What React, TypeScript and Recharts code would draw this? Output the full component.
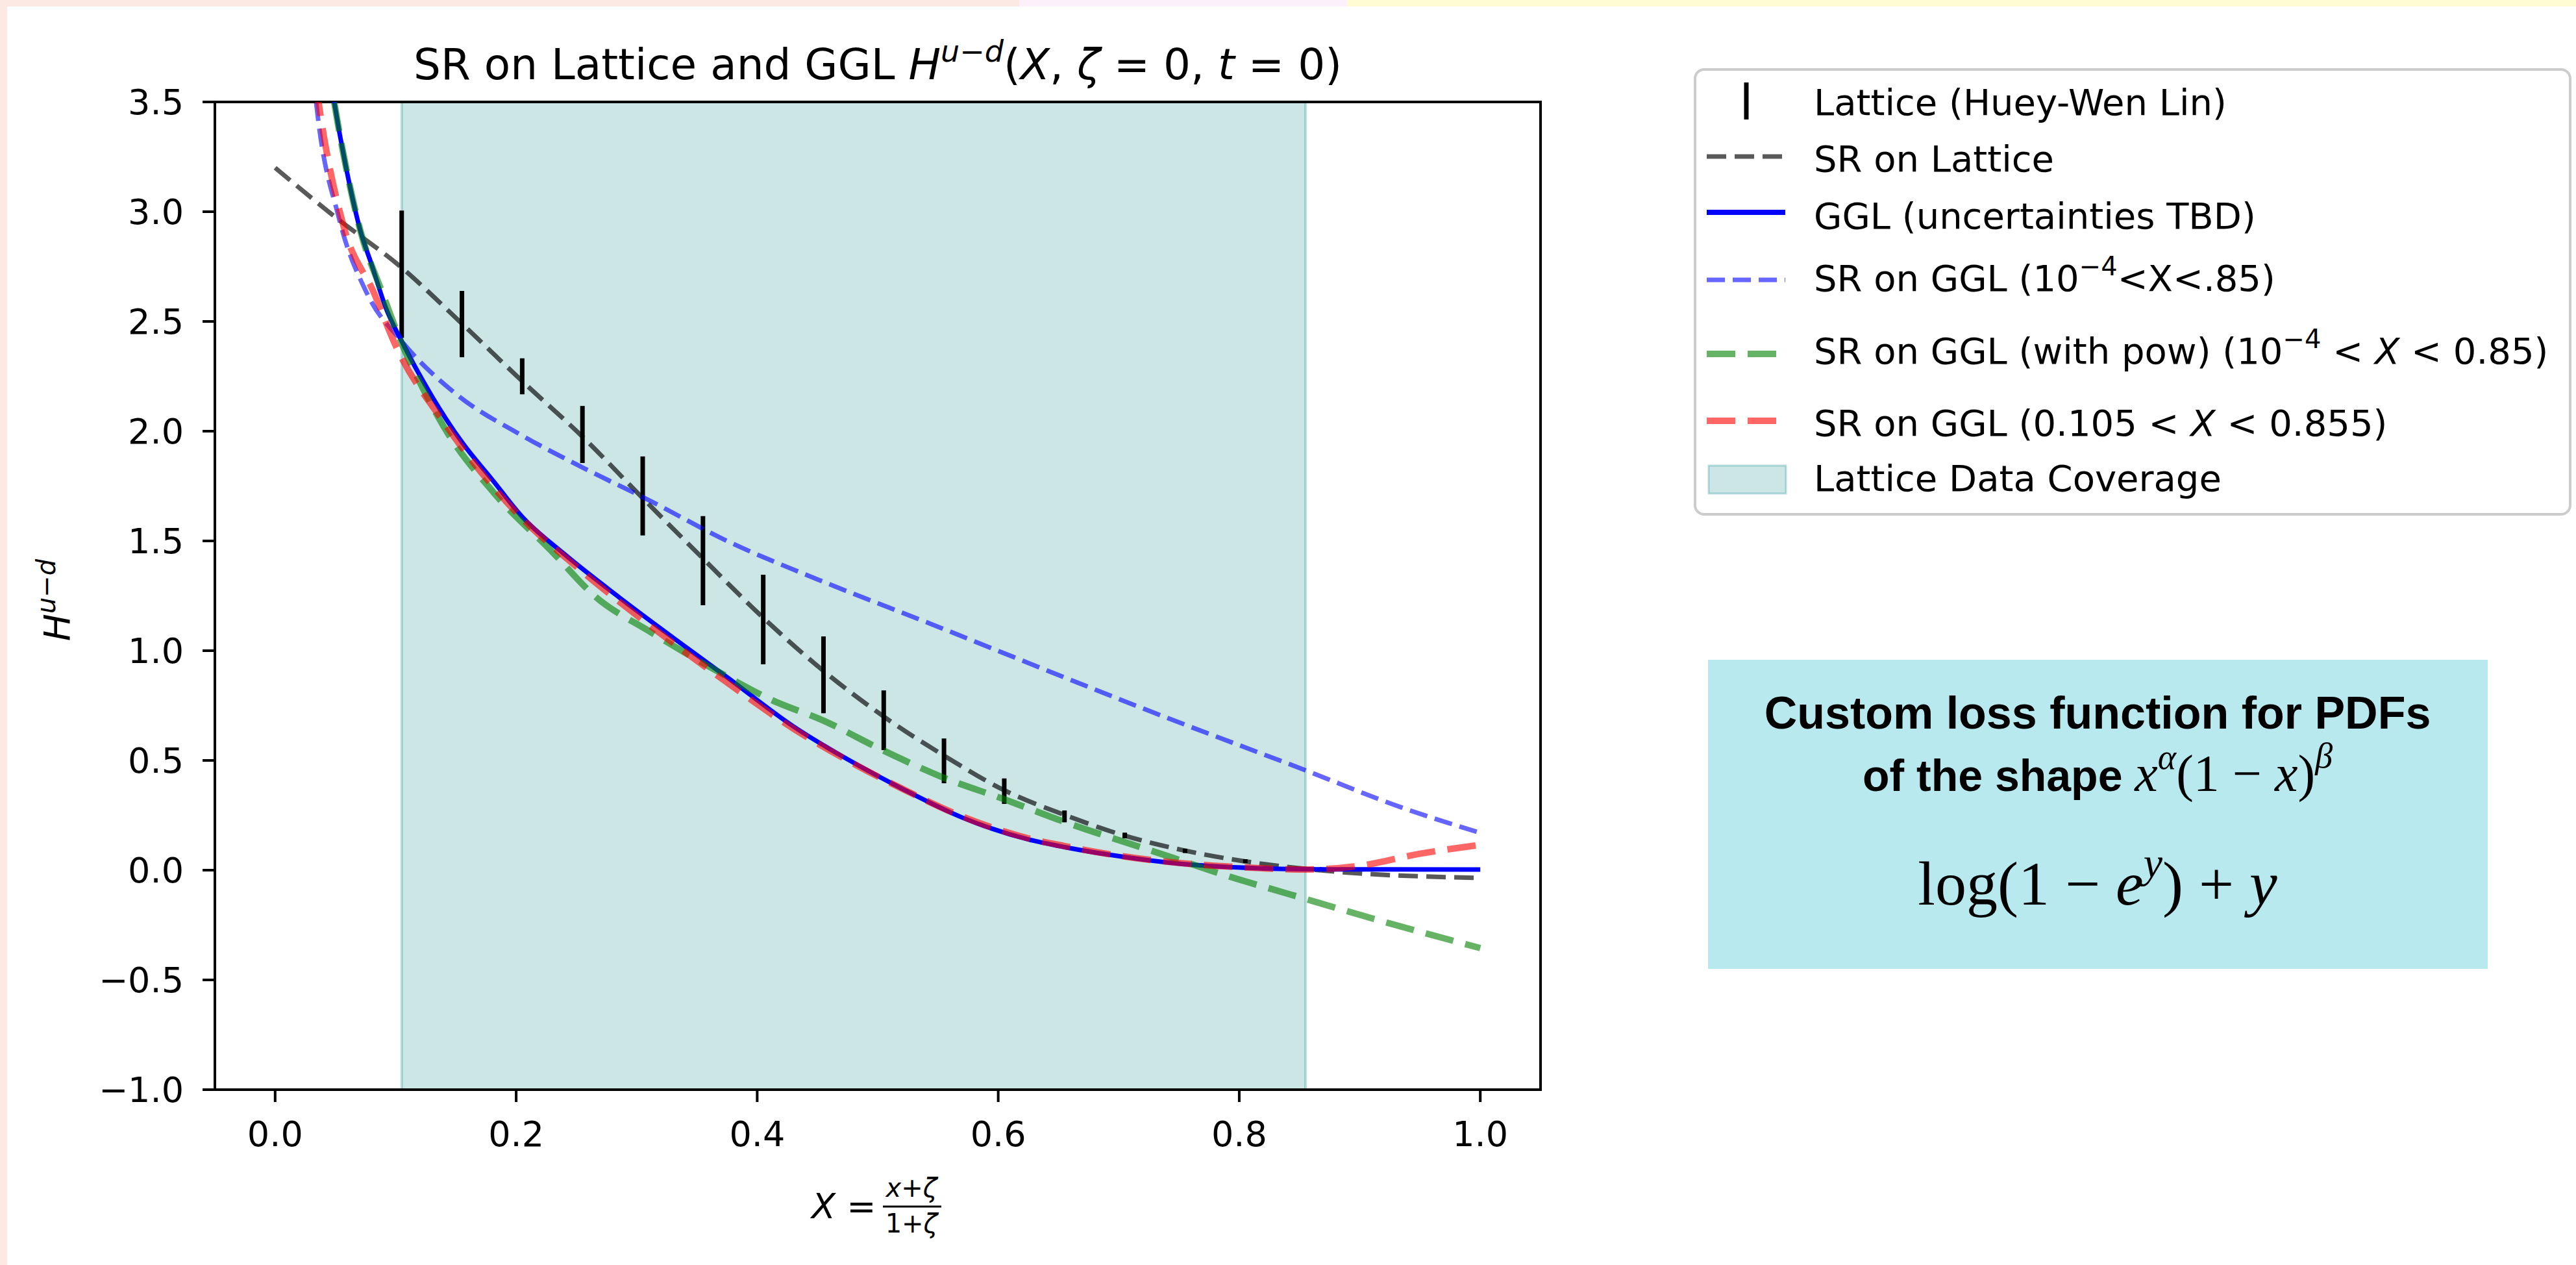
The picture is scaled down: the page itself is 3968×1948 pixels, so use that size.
import React from "react";
import {
  ComposedChart,
  Line,
  Scatter,
  ErrorBar,
  XAxis,
  YAxis,
  ReferenceArea,
} from "recharts";

const W = 3968;
const H = 1948;

// Lattice (Huey-Wen Lin) points with symmetric errors
const latticeX = [0.105, 0.155, 0.205, 0.255, 0.305, 0.355, 0.405, 0.455, 0.505, 0.555, 0.605, 0.655, 0.705, 0.755, 0.805];
const latticeY = [2.715, 2.488, 2.25, 1.985, 1.705, 1.41, 1.142, 0.89, 0.683, 0.498, 0.36, 0.245, 0.158, 0.088, 0.041];
const latticeErr = [0.29, 0.151, 0.082, 0.13, 0.18, 0.203, 0.204, 0.175, 0.136, 0.102, 0.058, 0.027, 0.013, 0.01, 0.009];

// SR on Lattice
const srLatX = [0, 0.05, 0.105, 0.155, 0.205, 0.255, 0.305, 0.355, 0.405, 0.455, 0.505, 0.555, 0.605, 0.655, 0.705, 0.755, 0.805, 0.855, 0.9, 0.95, 1.0];
const srLatY = [3.2, 2.975, 2.745, 2.49, 2.228, 1.975, 1.695, 1.42, 1.15, 0.908, 0.7, 0.522, 0.364, 0.252, 0.157, 0.089, 0.04, 0.006, -0.015, -0.028, -0.035];

// GGL (uncertainties TBD)
const gglX = [0.035, 0.049, 0.06, 0.071, 0.08, 0.092, 0.105, 0.13, 0.155, 0.18, 0.205, 0.24, 0.285, 0.33, 0.375, 0.43, 0.475, 0.52, 0.57, 0.625, 0.655, 0.705, 0.76, 0.815, 0.87, 1.0];
const gglY = [4.05, 3.5, 3.17, 2.908, 2.76, 2.56, 2.41, 2.16, 1.95, 1.78, 1.61, 1.44, 1.245, 1.06, 0.879, 0.655, 0.505, 0.372, 0.24, 0.14, 0.105, 0.06, 0.025, 0.009, 0.004, 0.003];

// SR on GGL (1e-4 < X < .85)
const srGglX = [0.028, 0.034, 0.053, 0.076, 0.105, 0.15, 0.205, 0.255, 0.31, 0.375, 0.45, 0.545, 0.655, 0.735, 0.855, 0.935, 1.0];
const srGglY = [3.85, 3.5, 2.97, 2.63, 2.41, 2.17, 1.98, 1.835, 1.686, 1.5, 1.325, 1.12, 0.878, 0.705, 0.455, 0.285, 0.17];

// SR on GGL (with pow)
const srPowX = [0.035, 0.049, 0.06, 0.071, 0.089, 0.105, 0.115, 0.14, 0.182, 0.23, 0.266, 0.31, 0.375, 0.411, 0.4555, 0.504, 0.554, 0.604, 0.654, 0.7435, 0.7865, 0.842, 0.92, 1.0];
const srPowY = [4.05, 3.5, 3.17, 2.908, 2.63, 2.4, 2.28, 2.02, 1.716, 1.45, 1.245, 1.09, 0.882, 0.778, 0.68, 0.547, 0.423, 0.325, 0.222, 0.059, -0.02, -0.11, -0.235, -0.355];

// SR on GGL (0.105 < X < 0.855)
const srCutX = [0.03, 0.036, 0.057, 0.082, 0.1, 0.14, 0.2, 0.255, 0.305, 0.375, 0.43, 0.475, 0.52, 0.57, 0.625, 0.655, 0.705, 0.76, 0.815, 0.855, 0.9, 0.95, 1.0];
const srCutY = [3.75, 3.5, 2.93, 2.63, 2.39, 2.04, 1.63, 1.36, 1.14, 0.855, 0.645, 0.5, 0.372, 0.245, 0.145, 0.11, 0.062, 0.028, 0.01, 0.003, 0.02, 0.075, 0.115];

const coverage = [0.105, 0.855];
const xDomain = [-0.05, 1.05];
const yDomain = [-1, 3.5];
const xTicks = [0, 0.2, 0.4, 0.6, 0.8, 1.0];
const yTicks = [-1, -0.5, 0, 0.5, 1, 1.5, 2, 2.5, 3, 3.5];

const zip = (xs: number[], ys: number[]) => xs.map((x, i) => ({ x, y: ys[i] }));
const lattice = latticeX.map((x, i) => ({ x, y: latticeY[i], err: latticeErr[i] }));

const fmt = (v: number) => (v < 0 ? "\u2212" + (-v).toFixed(1) : v.toFixed(1));

const DV = "DejaVu Sans";
const SERIF = "Liberation Serif";
const SANS = "Liberation Sans";
const tickStyle = { fontSize: 54, fill: "#000", fontFamily: DV };

// plot box in page pixels
const PL = 331;
const PT = 157;
const PR = 2373;
const PB = 1678;

function Overlay() {
  const lx = 2629;
  const tx = 2794;
  return (
    <svg
      width={W}
      height={H}
      style={{ position: "absolute", left: 0, top: 0, pointerEvents: "none" }}
    >
      {/* title */}
      <text x={(PL + PR) / 2} y={122} textAnchor="middle" fontFamily={DV} fontSize={66} fill="#000">
        SR on Lattice and GGL{" "}
        <tspan fontStyle="italic">H</tspan>
        <tspan fontSize={46} dy={-27} fontStyle="italic">u</tspan>
        <tspan fontSize={46}>{"\u2212"}</tspan>
        <tspan fontSize={46} fontStyle="italic">d</tspan>
        <tspan dy={27}>(</tspan>
        <tspan fontStyle="italic">X</tspan>
        <tspan>{", "}</tspan>
        <tspan fontStyle="italic">ζ</tspan>
        <tspan>{" = 0, "}</tspan>
        <tspan fontStyle="italic">t</tspan>
        <tspan>{" = 0)"}</tspan>
      </text>

      {/* y label */}
      <text transform="translate(107,924) rotate(-90)" textAnchor="middle" fontFamily={DV} fontSize={56} fill="#000">
        <tspan fontStyle="italic">H</tspan>
        <tspan fontSize={40} dy={-22} fontStyle="italic">u</tspan>
        <tspan fontSize={40}>{"\u2212"}</tspan>
        <tspan fontSize={40} fontStyle="italic">d</tspan>
      </text>

      {/* x label */}
      <text x={1250} y={1876} fontFamily={DV} fontSize={54} fill="#000">
        <tspan fontStyle="italic">X</tspan>
        <tspan>{" ="}</tspan>
      </text>
      <text x={1404} y={1843} textAnchor="middle" fontFamily={DV} fontSize={40} fill="#000">
        <tspan fontStyle="italic">x</tspan>+<tspan fontStyle="italic">ζ</tspan>
      </text>
      <line x1={1360} x2={1450} y1={1858} y2={1858} stroke="#000" strokeWidth={3} />
      <text x={1404} y={1898} textAnchor="middle" fontFamily={DV} fontSize={40} fill="#000">
        1+<tspan fontStyle="italic">ζ</tspan>
      </text>

      {/* legend */}
      <rect x={2611} y={107} width={1348} height={685} rx={14} fill="#fff" fillOpacity={0.8} stroke="#cccccc" strokeWidth={4} />
      <line x1={2690} x2={2690} y1={127} y2={184} stroke="#000" strokeWidth={7} />
      <line x1={lx} x2={2750} y1={241} y2={241} stroke="#000" strokeOpacity={0.65} strokeWidth={7} strokeDasharray="30 13" />
      <line x1={lx} x2={2750} y1={327} y2={327} stroke="#0000ff" strokeWidth={8} />
      <line x1={lx} x2={2750} y1={431} y2={431} stroke="#0000ff" strokeOpacity={0.6} strokeWidth={7} strokeDasharray="28 12" />
      <line x1={lx} x2={2739} y1={545} y2={545} stroke="#008000" strokeOpacity={0.6} strokeWidth={10} strokeDasharray="44 19" />
      <line x1={lx} x2={2739} y1={648} y2={648} stroke="#ff0000" strokeOpacity={0.6} strokeWidth={10} strokeDasharray="44 19" />
      <rect x={2632} y={717} width={119} height={43} fill="#008080" fillOpacity={0.2} stroke="#008080" strokeOpacity={0.25} strokeWidth={3} />
      <g fontFamily={DV} fontSize={56} fill="#000">
        <text x={tx} y={177}>Lattice (Huey-Wen Lin)</text>
        <text x={tx} y={264}>SR on Lattice</text>
        <text x={tx} y={352}>GGL (uncertainties TBD)</text>
        <text x={tx} y={448}>
          SR on GGL (10
          <tspan fontSize={40} dy={-24}>{"\u22124"}</tspan>
          <tspan dy={24}>{"<X<.85)"}</tspan>
        </text>
        <text x={tx} y={560}>
          SR on GGL (with pow) (10
          <tspan fontSize={40} dy={-24}>{"\u22124"}</tspan>
          <tspan dy={24}>{" < "}</tspan>
          <tspan fontStyle="italic">X</tspan>
          <tspan>{" < 0.85)"}</tspan>
        </text>
        <text x={tx} y={671}>
          {"SR on GGL (0.105 < "}
          <tspan fontStyle="italic">X</tspan>
          <tspan>{" < 0.855)"}</tspan>
        </text>
        <text x={tx} y={756}>Lattice Data Coverage</text>
      </g>

      {/* annotation box */}
      <rect x={2631} y={1016} width={1201} height={476} fill="#b8e9ee" />
      <text x={3231} y={1122} textAnchor="middle" fontFamily={SANS} fontWeight="bold" fontSize={70} fill="#000">
        Custom loss function for PDFs
      </text>
      <text x={3231} y={1218} textAnchor="middle" fontSize={68} fill="#000">
        <tspan fontFamily={SANS} fontWeight="bold">{"of the shape "}</tspan>
        <tspan fontFamily={SERIF} fontStyle="italic" fontSize={80}>x</tspan>
        <tspan fontFamily={SERIF} fontStyle="italic" fontSize={54} dy={-34}>α</tspan>
        <tspan fontFamily={SERIF} fontSize={80} dy={34}>{"(1 \u2212 "}</tspan>
        <tspan fontFamily={SERIF} fontStyle="italic" fontSize={80}>x</tspan>
        <tspan fontFamily={SERIF} fontSize={80}>)</tspan>
        <tspan fontFamily={SERIF} fontStyle="italic" fontSize={54} dy={-36}>β</tspan>
      </text>
      <text x={3231} y={1393} textAnchor="middle" fontFamily={SERIF} fontSize={96} fill="#000">
        {"log(1 \u2212 "}
        <tspan fontStyle="italic">e</tspan>
        <tspan fontStyle="italic" fontSize={66} dy={-42}>y</tspan>
        <tspan dy={42}>{") + "}</tspan>
        <tspan fontStyle="italic">y</tspan>
      </text>
    </svg>
  );
}

export default function App() {
  return (
    <div style={{ position: "absolute", left: 0, top: 0, width: W, height: H, background: "#fff", overflow: "hidden" }}>
      <div style={{ position: "absolute", left: 0, top: 0, width: 1570, height: 10, background: "#fde9e4" }} />
      <div style={{ position: "absolute", left: 1570, top: 0, width: 505, height: 10, background: "#fcf0fa" }} />
      <div style={{ position: "absolute", left: 2075, top: 0, width: W - 2075, height: 10, background: "#fefcd2" }} />
      <div style={{ position: "absolute", left: 0, top: 0, width: 11, height: H, background: "#fde9e4" }} />
      <div style={{ position: "absolute", left: 0, top: 0 }}>
        <ComposedChart
          width={W}
          height={H}
          margin={{ top: PT, right: W - PR, bottom: H - PB - 100, left: PL - 200 }}
        >
          <XAxis
            type="number"
            dataKey="x"
            domain={xDomain}
            ticks={xTicks}
            allowDataOverflow
            tickFormatter={fmt}
            height={100}
            tick={tickStyle}
            tickSize={19}
            tickMargin={30}
            axisLine={{ stroke: "#000", strokeWidth: 4 }}
            tickLine={{ stroke: "#000", strokeWidth: 4 }}
          />
          <YAxis
            type="number"
            dataKey="y"
            domain={yDomain}
            ticks={yTicks}
            allowDataOverflow
            tickFormatter={fmt}
            width={200}
            tick={tickStyle}
            tickSize={19}
            tickMargin={29}
            axisLine={{ stroke: "#000", strokeWidth: 4 }}
            tickLine={{ stroke: "#000", strokeWidth: 4 }}
          />
          <ReferenceArea
            x1={coverage[0]}
            x2={coverage[1]}
            y1={yDomain[0]}
            y2={yDomain[1]}
            fill="#008080"
            fillOpacity={0.2}
            stroke="#008080"
            strokeOpacity={0.25}
            strokeWidth={4}
          />
          <Scatter data={lattice} dataKey="y" shape={() => <g />} isAnimationActive={false}>
            <ErrorBar dataKey="err" direction="y" width={0} stroke="#000" strokeWidth={7} isAnimationActive={false} />
          </Scatter>
          <Line data={zip(srLatX, srLatY)} dataKey="y" type="monotone" stroke="#000" strokeOpacity={0.65} strokeWidth={7} strokeDasharray="30 13" dot={false} isAnimationActive={false} />
          <Line data={zip(gglX, gglY)} dataKey="y" type="monotone" stroke="#0000ff" strokeWidth={7} dot={false} isAnimationActive={false} />
          <Line data={zip(srGglX, srGglY)} dataKey="y" type="monotone" stroke="#0000ff" strokeOpacity={0.6} strokeWidth={7} strokeDasharray="28 12" dot={false} isAnimationActive={false} />
          <Line data={zip(srPowX, srPowY)} dataKey="y" type="monotone" stroke="#008000" strokeOpacity={0.6} strokeWidth={10} strokeDasharray="44 19" dot={false} isAnimationActive={false} />
          <Line data={zip(srCutX, srCutY)} dataKey="y" type="monotone" stroke="#ff0000" strokeOpacity={0.6} strokeWidth={10} strokeDasharray="44 19" dot={false} isAnimationActive={false} />
          <ReferenceArea
            x1={xDomain[0]}
            x2={xDomain[1]}
            y1={yDomain[0]}
            y2={yDomain[1]}
            fill="none"
            fillOpacity={0}
            stroke="#000"
            strokeWidth={4}
          />
        </ComposedChart>
      </div>
      <Overlay />
    </div>
  );
}
